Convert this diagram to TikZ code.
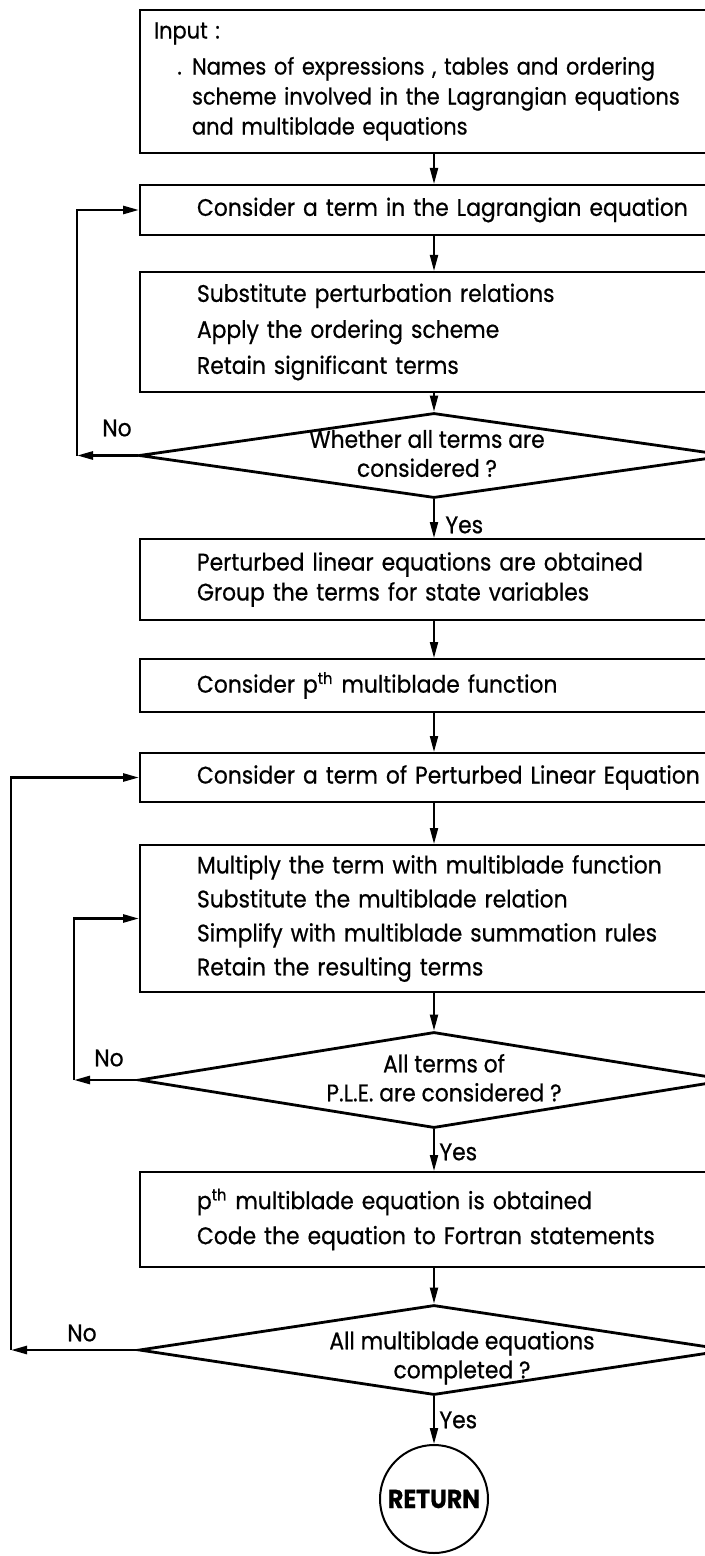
\documentclass[tikz,border=0pt]{standalone}
\usepackage{fontspec}
\setmainfont{Poppins}[FakeStretch=0.91, FakeBold=0.6]
\usetikzlibrary{shapes.geometric, arrows.meta}

% two centred lines inside a diamond, moved by (#1/2, #2)
\newcommand{\dtext}[4]{\smash{\makebox[0pt]{\kern#1\raisebox{-#2}{\begin{tabular}{@{}c@{}}#3\\#4\end{tabular}}}}}

\tikzset{
  proc/.style={draw, line width=1pt, anchor=west, text width=262pt, inner xsep=28.5pt, inner ysep=0pt, align=left, font=\fontsize{12}{15}\selectfont},
  dec/.style={draw, diamond, line width=1.4pt, inner sep=0pt, minimum width=295pt, font=\fontsize{12}{14.5}\selectfont},
  arr/.style={-{Triangle[length=8pt,width=4pt]}, line width=1pt},
  loop/.style={arr, line width=1.3pt},
  lbl/.style={font=\fontsize{12}{14}\selectfont, inner sep=1pt},
}

\begin{document}
\begin{tikzpicture}[x=0.5pt, y=-0.5pt]
  \useasboundingbox (0,0) rectangle (705,1556);
  \clip (0,0) rectangle (705,1556);
  % main column and loop columns
  \coordinate (col) at (434,0);
  \coordinate (k1) at (77,0); \coordinate (k2) at (74,0); \coordinate (k3) at (11,0);
  % boxes
  \node[proc, inner xsep=7pt, text width=300pt, minimum height=71.5pt, font=\fontsize{11.5}{15}\selectfont] (inp) at (139,81.5) {Input :\\[3pt]
    \hspace*{19pt}\llap{.\;\,}Names of expressions , tables and ordering\\
    \hspace*{19pt}scheme involved in the Lagrangian equations\\
    \hspace*{19pt}and multiblade equations};
  \node[proc, minimum height=25pt] (cons) at (139,210) {Consider a term in the Lagrangian equation};
  \node[proc, minimum height=60pt, font=\fontsize{12}{18}\selectfont] (subs) at (139,332) {Substitute perturbation relations\\Apply the ordering scheme\\Retain significant terms};
  \node[dec, minimum height=42.5pt] (all1) at (434,455.5) {\dtext{-7pt}{3.5pt}{Whether all terms are}{considered ?}};
  \node[proc, minimum height=40.5pt] (pert) at (139,579.5) {Perturbed linear equations are obtained\\Group the terms for state variables};
  \node[proc, minimum height=26.5pt] (pth) at (139,685.5) {Consider p\textsuperscript{th} multiblade function};
  \node[proc, minimum height=24.5pt] (term) at (139,777.5) {Consider a term of Perturbed Linear Equation};
  \node[proc, minimum height=73.5pt, font=\fontsize{12}{17}\selectfont] (mult) at (139,918.5) {Multiply the term with multiblade function\\Substitute the multiblade relation\\Simplify with multiblade summation rules\\Retain the resulting terms};
  \node[dec, minimum height=48pt] (all2) at (434,1080) {\dtext{10pt}{3.5pt}{All terms of}{P.L.E. are considered ?}};
  \node[proc, minimum height=47.5pt, font=\fontsize{12}{17.5}\selectfont] (peq) at (139,1219.5) {p\textsuperscript{th} multiblade equation is obtained\\Code the equation to Fortran statements};
  \node[dec, minimum height=45pt] (all3) at (434,1350) {\dtext{28pt}{7pt}{All multiblade equations}{completed ?}};
  \node[draw, circle, line width=1pt, minimum size=54pt, inner sep=0pt, font=\bfseries\fontsize{13}{14}\selectfont] (ret) at (434,1499) {RETURN};
  % main flow
  \draw[arr] (inp.south -| col) -- (cons.north -| col);
  \draw[arr] (cons.south -| col) -- (subs.north -| col);
  \draw[arr] (subs.south -| col) -- (all1.north);
  \draw[arr] (all1.south) -- (pert.north -| col);
  \draw[arr] (pert.south -| col) -- (pth.north -| col);
  \draw[arr] (pth.south -| col) -- (term.north -| col);
  \draw[arr] (term.south -| col) -- (mult.north -| col);
  \draw[arr] (mult.south -| col) -- (all2.north);
  \draw[arr] (all2.south) -- (peq.north -| col);
  \draw[arr] (peq.south -| col) -- (all3.north);
  \draw[arr] (all3.south) -- (ret.north);
  % loops back
  \draw[loop] (all1.west) -- (all1.west -| k1);
  \draw[loop] (all1.west -| k1) |- (cons.west);
  \draw[loop] (all2.west) -- (all2.west -| k2);
  \draw[loop] (all2.west -| k2) |- (mult.west);
  \draw[loop] (all3.west) -- (all3.west -| k3);
  \draw[loop] (all3.west -| k3) |- (term.west);
  % labels
  \node[lbl] (no1) at (117,428) {No};
  \node[lbl] (no2) at (109,1058) {No};
  \node[lbl] (no3) at (82,1333) {No};
  \node[lbl, anchor=west] (yes1) at (443,525) {Yes};
  \node[lbl, anchor=west] (yes2) at (437,1152) {Yes};
  \node[lbl, anchor=west] (yes3) at (437,1420) {Yes};
\end{tikzpicture}
\end{document}
